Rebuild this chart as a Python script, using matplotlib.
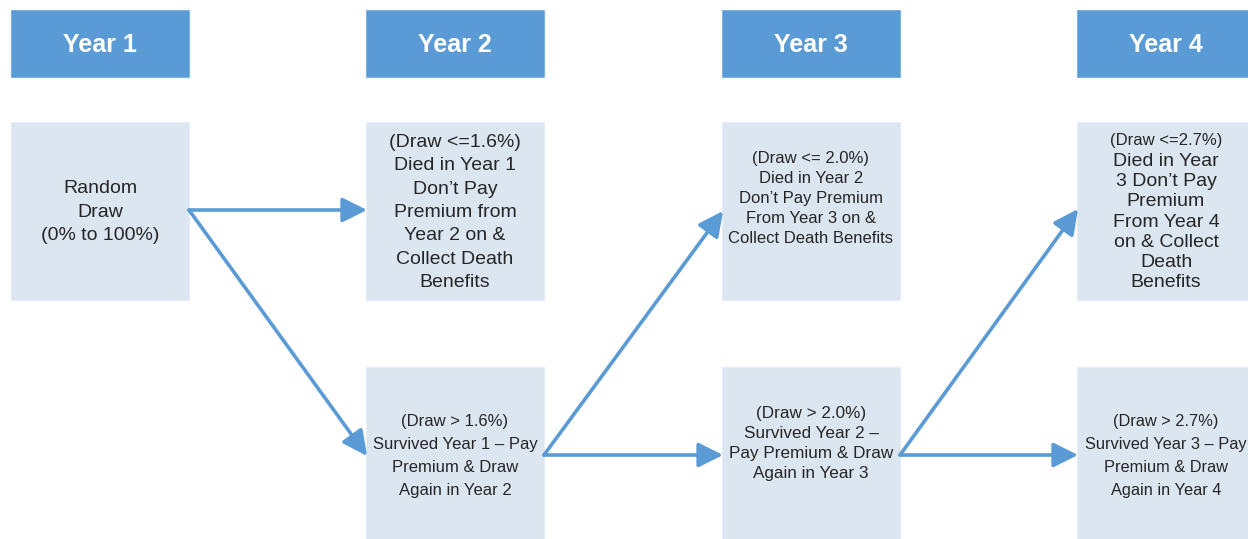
import matplotlib.pyplot as plt
from matplotlib.patches import Rectangle

# Flowchart contents
years = ['Year 1', 'Year 2', 'Year 3', 'Year 4']
top_texts = [
    'Random\nDraw\n(0% to 100%)',
    '(Draw <=1.6%)\nDied in Year 1\nDon\u2019t Pay\nPremium from\nYear 2 on &\nCollect Death\nBenefits',
    '(Draw <= 2.0%)\nDied in Year 2\nDon\u2019t Pay Premium\nFrom Year 3 on &\nCollect Death Benefits',
    '(Draw <=2.7%)\nDied in Year\n3 Don\u2019t Pay\nPremium\nFrom Year 4\non & Collect\nDeath\nBenefits',
]
bottom_texts = [
    None,
    '(Draw > 1.6%)\nSurvived Year 1 \u2013 Pay\nPremium & Draw\nAgain in Year 2',
    '(Draw > 2.0%)\nSurvived Year 2 \u2013\nPay Premium & Draw\nAgain in Year 3',
    '(Draw > 2.7%)\nSurvived Year 3 \u2013 Pay\nPremium & Draw\nAgain in Year 4',
]

header_color = '#5B9BD5'
box_color = '#DCE6F1'
arrow_color = '#5B9BD5'
text_color = '#262626'

plt.rcParams['font.family'] = ['Liberation Sans', 'DejaVu Sans']

fig = plt.figure(figsize=(12.48, 5.39), dpi=100)
ax = fig.add_axes([0, 0, 1, 1])
ax.set_xlim(0, 1248)
ax.set_ylim(539, 0)
ax.axis('off')

x0 = [11, 366, 722, 1077]
w = 178

# per-box text styling: (font size, line pitch px, vertical centre, first-line size)
top_style = [(14, 23.7, 210.3, None), (14, 23.4, 210.5, None),
             (12, 20.0, 197.0, None), (14, 20.2, 210.0, 12)]
bot_style = [None, (12, 23.0, 454.5, None), (12.3, 20.0, 442.0, None),
             (11.8, 23.0, 454.5, None)]


def box_text(cx, txt, style):
    fs, pitch, cy, first_fs = style
    lines = txt.split('\n')
    n = len(lines)
    for k, line in enumerate(lines):
        size = first_fs if (k == 0 and first_fs) else fs
        ax.text(cx, cy + (k - (n - 1) / 2) * pitch, line, ha='center',
                va='center_baseline', color=text_color, fontsize=size)


for i, yr in enumerate(years):
    cx = x0[i] + w / 2
    # header
    ax.add_patch(Rectangle((x0[i], 10), w, 67, facecolor=header_color, edgecolor='#7FB2E0', lw=0.8))
    ax.text(cx, 43, yr, ha='center', va='center_baseline', color='white',
            fontsize=18, fontweight='bold')
    # top box
    ax.add_patch(Rectangle((x0[i], 122), w, 178, facecolor=box_color, edgecolor='#E6EDF6', lw=0.8))
    box_text(cx, top_texts[i], top_style[i])
    # bottom box
    if bottom_texts[i] is not None:
        ax.add_patch(Rectangle((x0[i], 367), w, 180, facecolor=box_color, edgecolor='#E6EDF6', lw=0.8))
        box_text(cx, bottom_texts[i], bot_style[i])


# arrows
def arrow(p0, p1):
    ax.annotate('', xy=p1, xytext=p0,
                arrowprops=dict(arrowstyle='-|>,head_length=1.0,head_width=0.5',
                                color=arrow_color, lw=2.6, shrinkA=0, shrinkB=0,
                                mutation_scale=15))


arrow((189, 210), (367, 210))
arrow((189, 210), (367, 456))
arrow((544, 455), (723, 211))
arrow((544, 455), (723, 455))
arrow((900, 455), (1078, 209))
arrow((900, 455), (1078, 455))

fig.savefig('out.png', dpi=100, facecolor='white')
